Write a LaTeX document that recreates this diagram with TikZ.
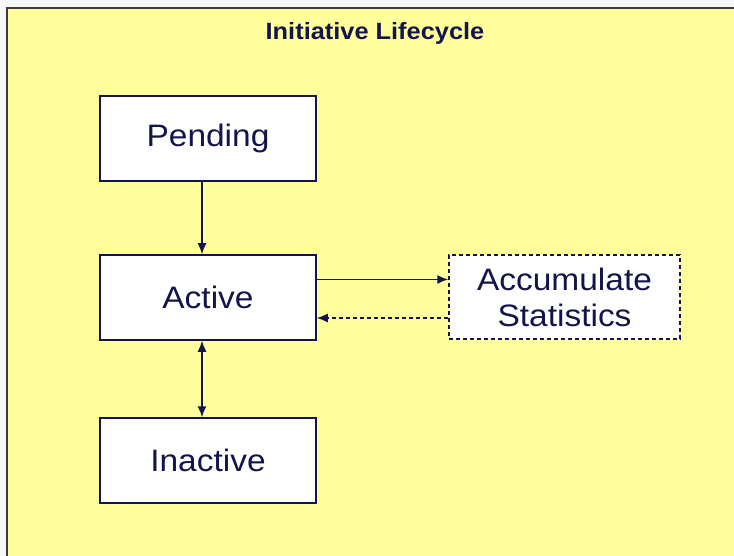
\documentclass[tikz,border=0pt]{standalone}
\usepackage{fontspec}
\setmainfont{Liberation Sans}[FakeStretch=1.08]
\usepackage{tikz}
\usetikzlibrary{arrows.meta,positioning}
\definecolor{panel}{RGB}{255, 255, 158}
\definecolor{ink}{RGB}{20, 20, 76}
\definecolor{frame}{RGB}{60, 60, 60}
\definecolor{paper}{RGB}{248, 248, 248}

\begin{document}
\begin{tikzpicture}[x=1pt, y=-1pt,
    state/.style={draw=ink, line width=1.5pt, fill=white, minimum width=216pt, minimum height=85pt,
        inner sep=0pt, text=ink, font=\fontsize{31}{36}\selectfont},
    task/.style={state, dash pattern=on 4pt off 3pt, minimum width=231pt, minimum height=84pt, align=center},
    flow/.style={draw=ink, line width=1.5pt, -{Latex[length=11pt,width=9pt]}}]
    \useasboundingbox (0,0) rectangle (734,556);
    % Background panel
    \fill[paper] (0,0) rectangle (734,556);
    \fill[panel] (7,8) rectangle (734,556);
    \draw[frame, line width=2pt] (7,556) -- (7,8) -- (734,8);
    
    % Title
    \node[text=ink, font=\bfseries\fontsize{23.5}{28}\selectfont] (Title) at (375,33) {Initiative Lifecycle};
    
    % States
    \node[state] (Pending) at (208,138.5) {Pending};
    \node[state] (Active) at (208,297.5) {Active};
    \node[state] (Inactive) at (208,460.5) {Inactive};
    \node[task] (Stats) at (564.5,297) {Accumulate\\Statistics};
    
    % Transitions
    \draw[flow] ([xshift=-6pt]Pending.south) -- ([xshift=-6pt]Active.north);
    \draw[flow, {Latex[length=11pt,width=9pt]}-{Latex[length=11pt,width=9pt]}] ([xshift=-6pt]Active.south) -- ([xshift=-6pt]Inactive.north);
    \draw[flow] ([yshift=18pt]Active.east) -- ([yshift=18pt]Stats.west |- Active.east);
    \draw[flow, dash pattern=on 4pt off 3pt] ([yshift=-20.5pt]Stats.west |- Active.east) -- ([yshift=-20.5pt]Active.east);
\end{tikzpicture}
\end{document}
